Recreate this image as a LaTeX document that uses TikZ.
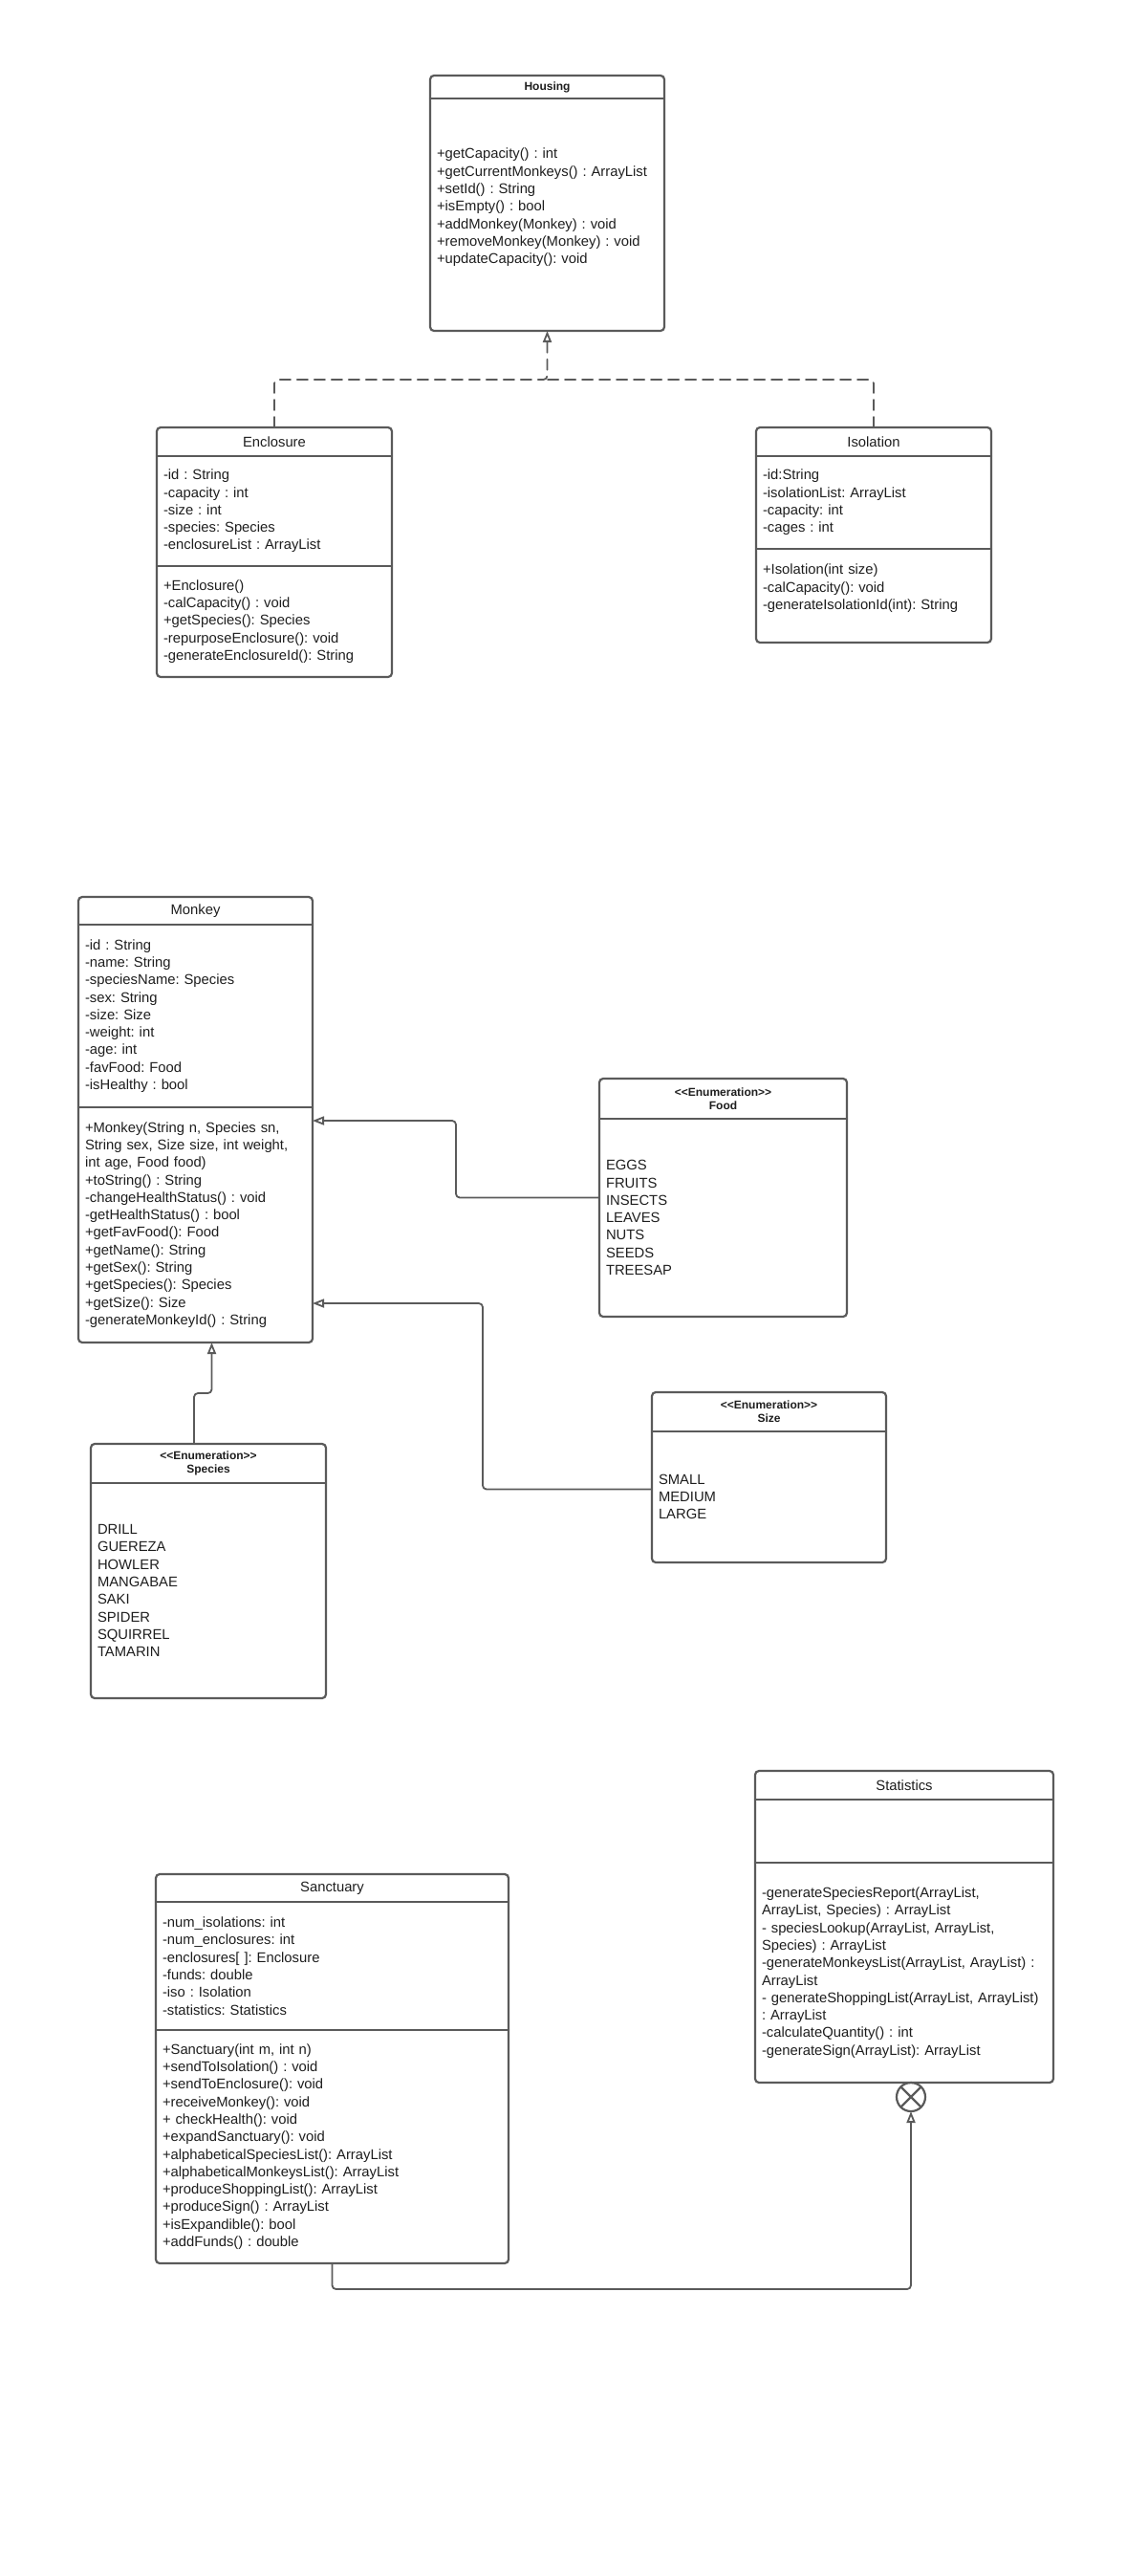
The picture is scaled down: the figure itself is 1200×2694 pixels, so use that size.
\documentclass[tikz,border=0pt]{standalone}
\usepackage{fontspec}
\setmainfont{Liberation Sans}
\usetikzlibrary{positioning,calc,arrows.meta}
\definecolor{linegray}{HTML}{5A5A5A}
\definecolor{txt}{HTML}{1E1E1E}
\frenchspacing

\begin{document}
\begin{tikzpicture}[x=1pt,y=-1pt,line join=round,line cap=round,
	every node/.style={text=txt,inner sep=0pt,outer sep=0pt},
	head/.style={minimum width=#1,align=center,font=\fontsize{14.8}{18.3}\selectfont},
	ehead/.style={minimum width=#1,align=center,font=\fontsize{12}{14.3}\selectfont\bfseries},
	part/.style={text width=#1,inner xsep=7pt,align=left,font=\fontsize{14.8}{18.3}\selectfont},
	frame/.style={draw=linegray,line width=2.2pt,rounded corners=4pt},
	sep/.style={draw=linegray,line width=2.2pt},
	link/.style={draw=linegray,line width=1.8pt,rounded corners=4pt},
	gen/.style={link,-{Triangle[open,length=12pt,width=9pt]}},
	real/.style={gen,dash pattern=on 11pt off 7pt}]
	\useasboundingbox (0,0) rectangle (1200,2694);
	% Housing
	\node[ehead=245pt,minimum height=24pt,anchor=north west] (hous-h) at (450,79) {Housing};
	\node[part=231pt,minimum height=243pt,below=0pt of hous-h] (hous-b) {+getCapacity() : int\\+getCurrentMonkeys() : ArrayList\\+setId() : String\\+isEmpty() : bool\\+addMonkey(Monkey) : void\\+removeMonkey(Monkey) : void\\+updateCapacity(): void\\ \mbox{}};
	% Enclosure
	\node[head=246pt,minimum height=30pt,anchor=north west] (encl-h) at (164,447) {Enclosure};
	\node[part=232pt,minimum height=115pt,below=0pt of encl-h] (encl-a) {-id : String\\-capacity : int\\-size : int\\-species: Species\\-enclosureList : ArrayList};
	\node[part=232pt,minimum height=116pt,below=0pt of encl-a] (encl-m) {+Enclosure()\\-calCapacity() : void\\+getSpecies(): Species\\-repurposeEnclosure(): void\\-generateEnclosureId(): String};
	% Isolation
	\node[head=246pt,minimum height=30pt,anchor=north west] (isol-h) at (791,447) {Isolation};
	\node[part=232pt,minimum height=97pt,below=0pt of isol-h] (isol-a) {-id:String\\-isolationList: ArrayList\\-capacity: int\\-cages : int};
	\node[part=232pt,minimum height=98pt,below=0pt of isol-a] (isol-m) {+Isolation(int size)\\-calCapacity(): void\\-generateIsolationId(int): String\\ \mbox{}};
	% Monkey
	\node[head=245pt,minimum height=29pt,anchor=north west] (mnky-h) at (82,938) {Monkey};
	\node[part=231pt,minimum height=191pt,below=0pt of mnky-h] (mnky-a) {-id : String\\-name: String\\-speciesName: Species\\-sex: String\\-size: Size\\-weight: int\\-age: int\\-favFood: Food\\-isHealthy : bool};
	\node[part=231pt,minimum height=246pt,below=0pt of mnky-a] (mnky-m) {+Monkey(String n, Species sn,\\String sex, Size size, int weight,\\int age, Food food)\\+toString() : String\\-changeHealthStatus() : void\\-getHealthStatus() : bool\\+getFavFood(): Food\\+getName(): String\\+getSex(): String\\+getSpecies(): Species\\+getSize(): Size\\-generateMonkeyId() : String};
	% Food
	\node[ehead=259pt,minimum height=42pt,anchor=north west] (food-h) at (627,1128) {<{}<Enumeration>{}>\\Food};
	\node[part=245pt,minimum height=207pt,below=0pt of food-h] (food-b) {EGGS\\FRUITS\\INSECTS\\LEAVES\\NUTS\\SEEDS\\TREESAP};
	% Size
	\node[ehead=245pt,minimum height=41pt,anchor=north west] (size-h) at (682,1456) {<{}<Enumeration>{}>\\Size};
	\node[part=231pt,minimum height=137pt,below=0pt of size-h] (size-b) {SMALL\\MEDIUM\\LARGE};
	% Species
	\node[ehead=246pt,minimum height=41pt,anchor=north west] (spec-h) at (95,1510) {<{}<Enumeration>{}>\\Species};
	\node[part=232pt,minimum height=225pt,below=0pt of spec-h] (spec-b) {DRILL\\GUEREZA\\HOWLER\\MANGABAE\\SAKI\\SPIDER\\SQUIRREL\\TAMARIN};
	% Sanctuary
	\node[head=369pt,minimum height=29pt,anchor=north west] (sanc-h) at (163,1960) {Sanctuary};
	\node[part=355pt,minimum height=134pt,below=0pt of sanc-h] (sanc-a) {-num\_isolations: int\\-num\_enclosures: int\\-enclosures[ ]: Enclosure\\-funds: double\\-iso : Isolation\\-statistics: Statistics};
	\node[part=355pt,minimum height=244pt,below=0pt of sanc-a] (sanc-m) {+Sanctuary(int m, int n)\\+sendToIsolation() : void\\+sendToEnclosure(): void\\+receiveMonkey(): void\\+ checkHealth(): void\\+expandSanctuary(): void\\+alphabeticalSpeciesList(): ArrayList\\+alphabeticalMonkeysList(): ArrayList\\+produceShoppingList(): ArrayList\\+produceSign() : ArrayList\\+isExpandible(): bool\\+addFunds() : double};
	% Statistics
	\node[head=312pt,minimum height=30pt,anchor=north west] (stat-h) at (790,1852) {Statistics};
	\node[part=298pt,minimum height=66pt,below=0pt of stat-h] (stat-a) {};
	\node[part=298pt,minimum height=230pt,below=0pt of stat-a] (stat-m) {-generateSpeciesReport(ArrayList,\\ArrayList, Species) : ArrayList\\- speciesLookup(ArrayList, ArrayList,\\Species) : ArrayList\\-generateMonkeysList(ArrayList, ArayList) :\\ArrayList\\- generateShoppingList(ArrayList, ArrayList)\\: ArrayList\\-calculateQuantity() : int\\-generateSign(ArrayList): ArrayList};
	\node[draw=linegray,line width=2.2pt,circle,minimum size=30pt,below=0pt of stat-m,xshift=7pt] (cont) {};
	% frames and compartments
	\foreach \a/\b in {hous-h/hous-b,encl-h/encl-m,isol-h/isol-m,mnky-h/mnky-m,food-h/food-b,size-h/size-b,spec-h/spec-b,sanc-h/sanc-m,stat-h/stat-m}
		\draw[frame] (\a.north west) rectangle (\b.south east);
	\foreach \s in {hous-h,encl-h,encl-a,isol-h,isol-a,mnky-h,mnky-a,food-h,size-h,spec-h,sanc-h,sanc-a,stat-h,stat-a}
		\draw[sep] (\s.south west) -- (\s.south east);
	\draw[sep] (cont.north west) -- (cont.south east) (cont.north east) -- (cont.south west);
	% connectors
	\coordinate (jn) at ([yshift=-51pt]hous-b.south);
	\draw[real] (encl-h.north) |- (jn) -- (hous-b.south);
	\draw[link,dash pattern=on 11pt off 7pt] (isol-h.north) |- (jn);
	\coordinate (fodc) at ($(food-h.north west)!.5!(food-b.south west)$);
	\draw[gen] (fodc) -- ++(-150,0) |- ([yshift=-14pt]mnky-m.north east);
	\draw[gen] ([yshift=8pt]size-b.west) -- ++(-177,0) |- ([yshift=41pt]mnky-m.south east);
	\draw[gen] ([xshift=-15pt]spec-h.north) -- ++(0,-53) -| ([xshift=17pt]mnky-m.south);
	\draw[gen] (sanc-m.south) -- ++(0,27) -| (cont.south);
\end{tikzpicture}
\end{document}
